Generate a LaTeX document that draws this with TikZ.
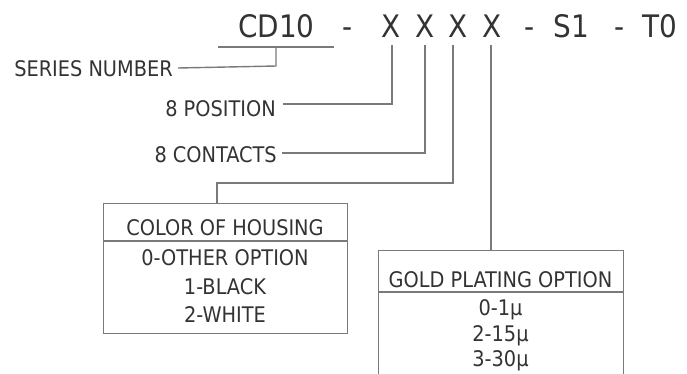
\documentclass[tikz,border=0pt]{standalone}
\usepackage{fontspec}
\setmainfont{DejaVu Sans Condensed}
\definecolor{txt}{HTML}{333333}
\definecolor{ln}{HTML}{7A7A7A}
\begin{document}
\begin{tikzpicture}[x=1bp,y=-1bp,
  lbl/.style={text=txt,font=\fontsize{21.5bp}{24bp}\selectfont,inner sep=0pt},
  ttl/.style={text=txt,font=\fontsize{31bp}{34bp}\selectfont,inner sep=0pt,anchor=base},
  conn/.style={draw=ln,line width=1.4bp},
  boxst/.style={draw=ln,line width=1.4bp,rectangle,inner sep=0pt,anchor=north west}]
\useasboundingbox (0,0) rectangle (687,373);
\clip (0,0) rectangle (687,373);
% title
\node[ttl] (cd) at (276.5,37.7) {CD10};
\node[ttl] (d1) at (348,37.7) {-};
\node[ttl] (x1) at (391.5,37.7) {X};
\node[ttl] (x2) at (425,37.7) {X};
\node[ttl] (x3) at (458,37.7) {X};
\node[ttl] (x4) at (492,37.7) {X};
\node[ttl] (d2) at (530,37.7) {-};
\node[ttl] (s1) at (571.5,37.7) {S1};
\node[ttl] (d3) at (620,37.7) {-};
\node[ttl] (t0) at (660,37.7) {T0};
% labels
\node[lbl,anchor=base east] (ser) at (173,76) {SERIES NUMBER};
\node[lbl,anchor=base east] (pos) at (276,116) {8 POSITION};
\node[lbl,anchor=base east] (con) at (277,162.5) {8 CONTACTS};
% boxes
\node[boxst,minimum width=244bp,minimum height=130bp] (hous) at (103,203) {};
\node[boxst,minimum width=245bp,minimum height=140bp] (gold) at (378,250) {};
\draw[conn] (hous.west |- 0,241) -- (hous.east |- 0,241);
\draw[conn] (gold.west |- 0,292) -- (gold.east |- 0,292);
\node[lbl,anchor=base] (hh) at (225,235) {COLOR OF HOUSING};
\node[lbl,anchor=base] (h0) at (225,265) {0-OTHER OPTION};
\node[lbl,anchor=base] (h1) at (225,294.5) {1-BLACK};
\node[lbl,anchor=base] (h2) at (225,322.5) {2-WHITE};
\node[lbl,anchor=base] (gh) at (500.5,287) {GOLD PLATING OPTION};
\node[lbl,anchor=base] (g0) at (500.5,315) {0-1µ};
\node[lbl,anchor=base] (g1) at (500.5,341.5) {2-15µ};
\node[lbl,anchor=base] (g2) at (500.5,366.5) {3-30µ};
% connector coordinates
\coordinate (ulL) at (218,47);
\coordinate (ulR) at (334,47);
\coordinate (ulM) at (276,47);
\coordinate (t1) at (392,45);
\coordinate (t2) at (425,45);
\coordinate (t3) at (453,45);
\coordinate (t4) at (491,45);
% connectors
\draw[conn] (ulL) -- (ulR);
\draw[conn] (ulM) -- (276,66) -- ([xshift=5bp,yshift=-2bp]ser.base east |- 0,66);
\draw[conn] (t1) -- (392,104) -- ([xshift=7bp]pos.east |- 0,104);
\draw[conn] (t2) -- (425,153) -- ([xshift=5bp]con.east |- 0,153);
\draw[conn] (t3) -- (453,183) -- (217,183) -- (hous.north west -| 217,0);
\draw[conn] (t4) -- (gold.north west -| 491,0);
\end{tikzpicture}
\end{document}
